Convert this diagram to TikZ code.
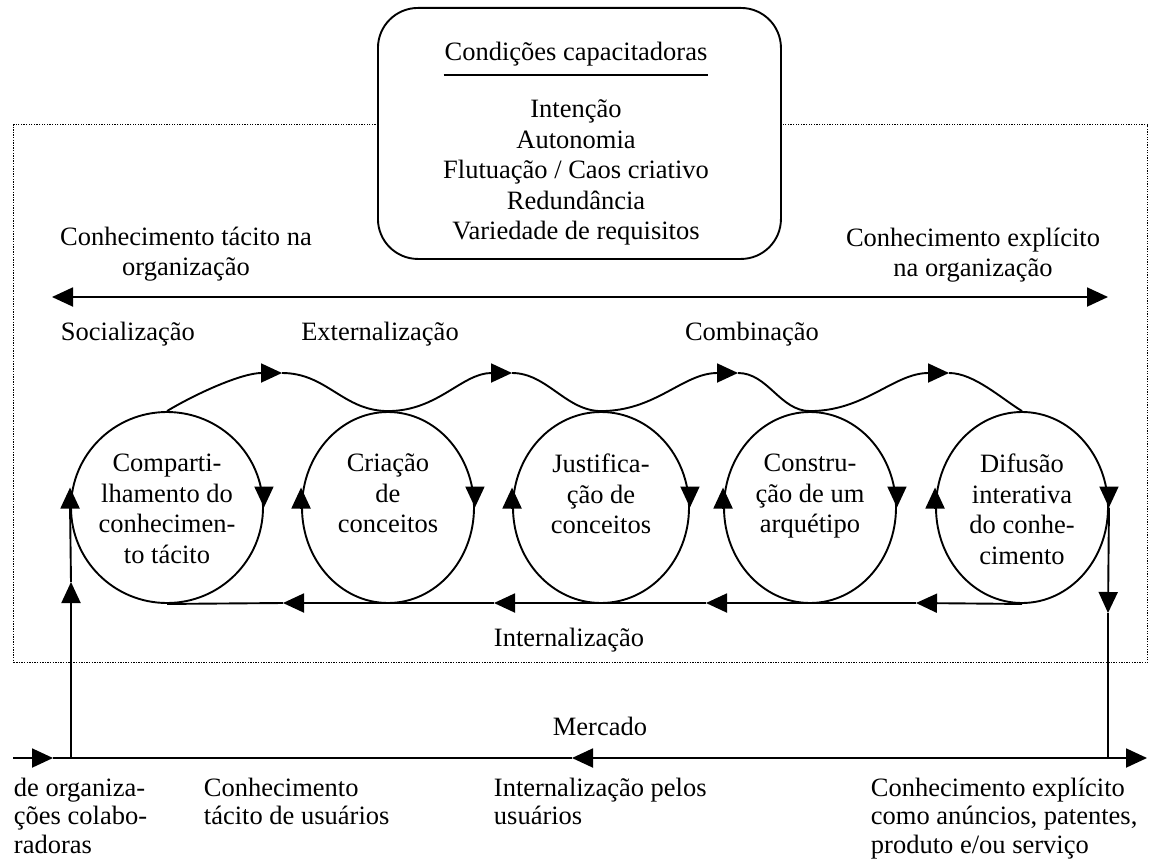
\documentclass[tikz,border=0pt]{standalone}
\usepackage{fontspec}
\setmainfont{Liberation Serif}
\usetikzlibrary{arrows.meta,shapes.geometric,calc}

\begin{document}
\begin{tikzpicture}[x=1pt,y=-1pt,
  line width=1.9pt,
  every node/.style={font=\fontsize{26.5}{30.5}\selectfont, inner sep=0pt},
  tip/.style={-{Triangle[length=21pt,width=19pt]}},
  tips/.style={{Triangle[length=21pt,width=19pt]}-{Triangle[length=21pt,width=19pt]}},
  phase/.style={ellipse, draw, minimum height=191pt},
  phasetext/.style={anchor=north, align=center},
  lbl/.style={anchor=base},
  para/.style={anchor=north west, align=left, font=\fontsize{26.5}{28.5}\selectfont},
  orgframe/.style={draw, line width=1.3pt, dash pattern=on 1.3pt off 1.3pt,
    anchor=north west, minimum width=1134pt, minimum height=538pt},
  condbox/.style={draw, fill=white, rounded corners=40pt, anchor=north west,
    minimum width=403pt, minimum height=251pt}]
\useasboundingbox (0,0) rectangle (1153,867);

% organisation frame and enabling conditions
\node[orgframe] (org) at (13,124) {};
\node[condbox] (cond) at (377,7) {};
\node[lbl] (condt) at (576,60) {Condições capacitadoras};
\draw[line width=1.3pt] ([yshift=-15pt]condt.base west) -- ([yshift=-15pt]condt.base east);
\node[anchor=north, align=center] (condl) at (576,99)
  {Intenção\\Autonomia\\Flutuação / Caos criativo\\Redundância\\Variedade de requisitos};

% tacit / explicit axis
\node[anchor=north, align=center] (tac) at (186,226) {Conhecimento tácito na\\organização};
\node[anchor=north, align=center] (exp) at (973,227) {Conhecimento explícito\\na organização};
\coordinate (axL) at (52,297);
\coordinate (axR) at (1108,297);
\draw[tips] (axL) -- (axR);

\node[anchor=base west] (soc) at (60,340) {Socialização};
\node[lbl] (ext) at (380,340) {Externalização};
\node[lbl] (comb) at (752,340) {Combinação};

% the five phases
\node[phase, minimum width=192pt] (c1) at (167,507.5) {};
\node[phase, minimum width=172pt] (c2) at (388,507.5) {};
\node[phase, minimum width=176pt] (c3) at (601,507.5) {};
\node[phase, minimum width=172pt] (c4) at (810,507.5) {};
\node[phase, minimum width=172pt] (c5) at (1022,507.5) {};

\node[phasetext] (t1) at (167,453) {Comparti-\\lhamento do\\conhecimen-\\to tácito};
\node[phasetext] (t2) at (388,453) {Criação\\de\\conceitos};
\node[phasetext] (t3) at (601,453) {Justifica-\\ção de\\conceitos};
\node[phasetext] (t4) at (810,453) {Constru-\\ção de um\\arquétipo};
\node[phasetext] (t5) at (1022,453) {Difusão\\interativa\\do conhe-\\cimento};

\foreach \c in {c1,c2,c3,c4,c5}{
  \draw[tip] ($(\c.east)+(0,-21)$) -- (\c.east);
  \draw[tip] ($(\c.west)+(0,1)$) -- ($(\c.west)+(0,-20)$);
}

% wave over the phases
\coordinate (p1) at (282,373);
\coordinate (p2) at (512,373);
\coordinate (p3) at (738,373);
\coordinate (p4) at (949,373);
\draw[tip] (c1.north) .. controls +(30,-18) and +(-40,0) .. (p1);
\draw (p1) .. controls +(45,0) and +(-45,0) .. (c2.north);
\draw[tip] (c2.north) .. controls +(50,0) and +(-50,0) .. (p2);
\draw (p2) .. controls +(35,0) and +(-35,0) .. (c3.north);
\draw[tip] (c3.north) .. controls +(55,0) and +(-55,0) .. (p3);
\draw (p3) .. controls +(30,0) and +(-30,0) .. (c4.north);
\draw[tip] (c4.north) .. controls +(55,0) and +(-55,0) .. (p4);
\draw (p4) .. controls +(25,0) and +(-20,-12) .. (c5.north);

% internalisation line under the phases
\coordinate (i1) at (283,603);
\coordinate (i2) at (494,603);
\coordinate (i3) at (706,603);
\coordinate (i4) at (916,603);
\draw[tip] (c5.south) -- (i4);
\draw[tip] (i4) -- (i3);
\draw[tip] (i3) -- (i2);
\draw[tip] (i2) -- (i1);
\draw (i1) -- (c1.south);
\node[lbl] (int) at (569,646) {Internalização};

% market line and links to the organisation
\coordinate (mL) at (13,758);
\coordinate (mA) at (53,758);
\coordinate (mC) at (572,758);
\coordinate (mR) at (1147,758);
\coordinate (vL) at (71,758);
\coordinate (vR) at (1108,758);
\coordinate (uL) at (71,582);
\coordinate (dR) at (1108,613);
\draw[tip] (mL) -- (mA);
\draw (mA) -- (mC);
\draw[tips] (mC) -- (mR);
\draw[tip] (vL) -- (uL);
\draw (uL) -- (c1.west);
\draw[tip] (c5.east) -- (dR);
\draw (dR) -- (vR);
\node[lbl] (merc) at (600,735) {Mercado};

\node[para] (b1) at (13,777) {de organiza-\\ções colabo-\\radoras};
\node[para] (b2) at (203,777) {Conhecimento\\tácito de usuários};
\node[para] (b3) at (493,777) {Internalização pelos\\usuários};
\node[para] (b4) at (870,777) {Conhecimento explícito\\como anúncios, patentes,\\produto e/ou serviço};
\end{tikzpicture}
\end{document}
